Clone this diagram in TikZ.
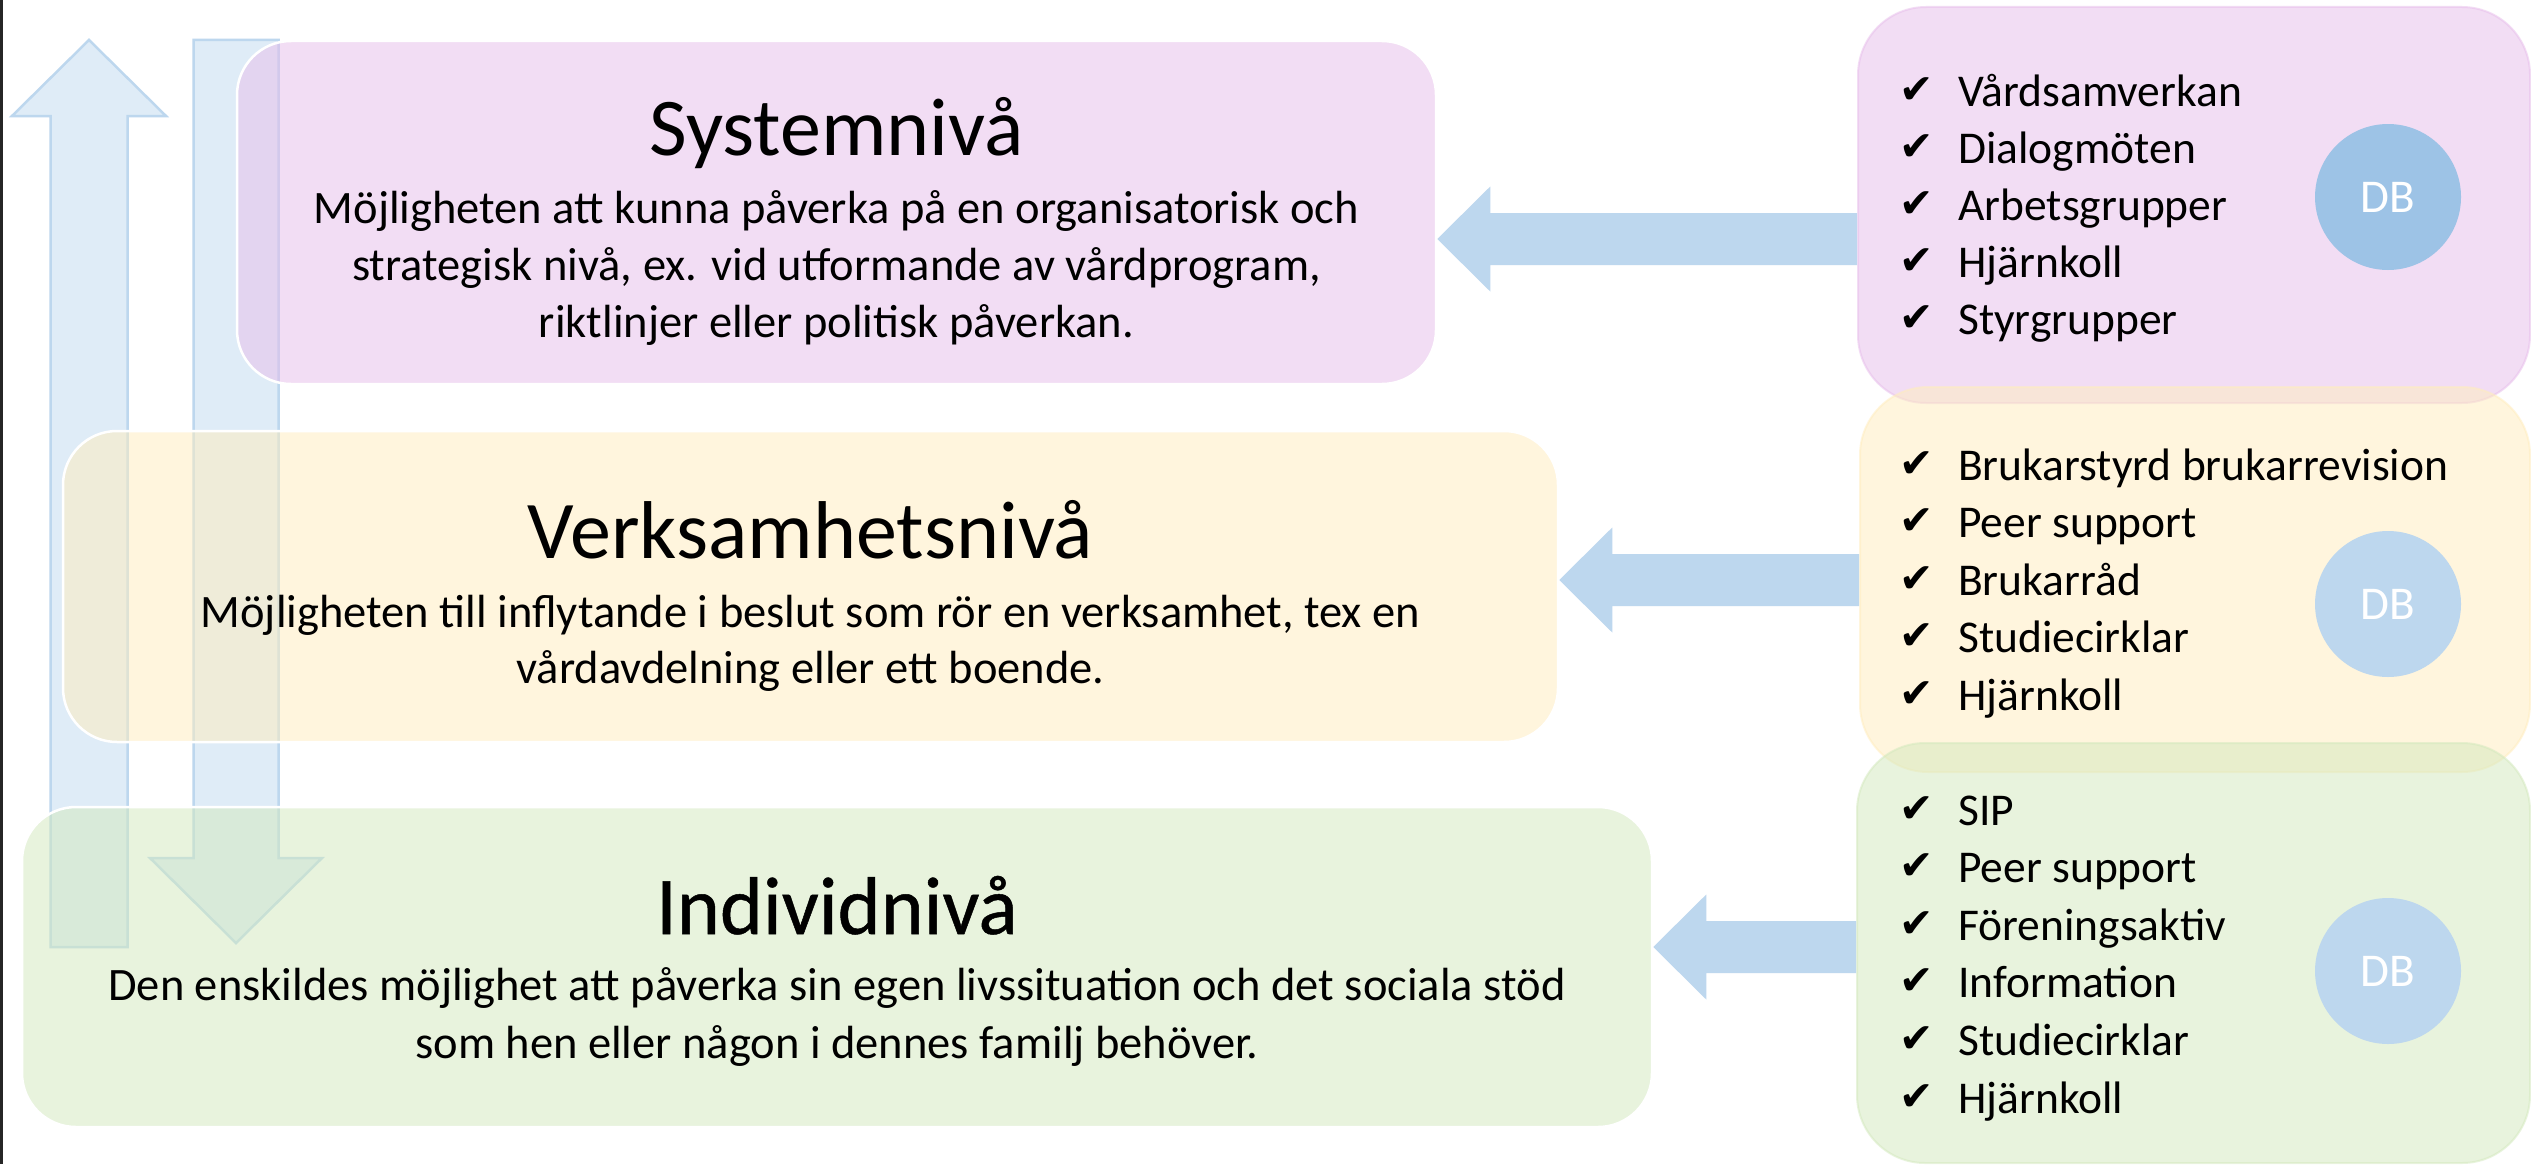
\documentclass[tikz,border=0pt]{standalone}
\usepackage{fontspec}
\setmainfont{Carlito}
\newfontfamily\chkfont{DejaVu Sans}
\usetikzlibrary{calc}
\definecolor{purpT}{RGB}{231,189,235}
\definecolor{yellT}{RGB}{255,237,189}
\definecolor{greenT}{RGB}{211,233,189}
\definecolor{arrowblue}{RGB}{189,215,238}
\definecolor{dbdark}{RGB}{157,195,230}
\definecolor{dblight}{RGB}{189,215,238}
\newcommand\leftblockarrow[2]{%
  \fill[arrowblue] (#2) -- ($(#2)+(53,-52.5)$) -- ($(#2)+(53,-26)$) -- ($(#1)+(0,-26)$)
    -- ($(#1)+(0,26)$) -- ($(#2)+(53,26)$) -- ($(#2)+(53,52.5)$) -- cycle;}
\begin{document}
\begin{tikzpicture}[x=1pt,y=-1pt,
  varrow/.style={fill=arrowblue, fill opacity=0.47, draw=arrowblue, line width=2.5pt, line join=miter},
  lbox/.style={draw=white, line width=2.5pt, rounded corners=54pt, inner sep=0pt, fill opacity=0.5},
  rbox/.style={line width=2pt, rounded corners=68pt, inner sep=0pt, fill opacity=0.5, draw opacity=0.5},
  title/.style={font=\fontsize{82}{98}\selectfont, anchor=base, inner sep=0pt},
  desc/.style={font=\fontsize{46.5}{57}\selectfont, anchor=base, inner sep=0pt},
  item/.style={font=\fontsize{45.5}{57}\selectfont, anchor=base west, inner sep=0pt},
  chk/.style={font=\chkfont\fontsize{41}{45}\selectfont, anchor=base west, inner sep=0pt},
  dbc/.style={circle, minimum size=146pt, inner sep=0pt, text=white, font=\fontsize{47}{50}\selectfont}]
\useasboundingbox (0,0) rectangle (2531,1164);
\fill[white] (0,0) rectangle (2531,1164);
\fill[black!85] (0,0) rectangle (3,1164);
% vertical arrows
\coordinate (upTip) at (89,40);
\coordinate (upBase) at (89,947);
\path[varrow] (upTip) -- ($(upTip)+(77,76)$) -- ($(upTip)+(38.5,76)$) -- ($(upBase)+(38.5,0)$)
  -- ($(upBase)+(-38.5,0)$) -- ($(upTip)+(-38.5,76)$) -- ($(upTip)+(-77,76)$) -- cycle;
\coordinate (dnTop) at (236,40);
\coordinate (dnTip) at (236,943);
\path[varrow] (dnTip) -- ($(dnTip)+(86,-85)$) -- ($(dnTip)+(42.5,-85)$) -- ($(dnTop)+(42.5,0)$)
  -- ($(dnTop)+(-42.5,0)$) -- ($(dnTip)+(-42.5,-85)$) -- ($(dnTip)+(-86,-85)$) -- cycle;
% left boxes
\node[lbox, fill=purpT, minimum width=1199pt, minimum height=343pt] (sys) at (836.5,212.5) {};
\node[lbox, fill=yellT, minimum width=1495pt, minimum height=311pt] (verk) at (810.5,586.5) {};
\node[lbox, fill=greenT, minimum width=1630pt, minimum height=320pt] (ind) at (837,967) {};
% right boxes
\node[rbox, fill=purpT, draw=purpT, minimum width=672pt, minimum height=396pt] (rsys) at (2194,205) {};
\node[rbox, fill=yellT, draw=yellT, minimum width=670pt, minimum height=385pt] (rverk) at (2195,579.5) {};
\node[rbox, fill=greenT, draw=greenT, minimum width=673pt, minimum height=420pt] (rind) at (2193.5,953) {};
% horizontal arrows
\path (rsys.west) ++(0,34) coordinate (h1s);
\path (sys.east) ++(0,26.5) coordinate (h1e);
\path (rverk.west) ++(0,0.5) coordinate (h2s);
\path (verk.east) ++(0,-6.5) coordinate (h2e);
\path (rind.west) ++(0,-6) coordinate (h3s);
\path (ind.east) ++(0,-20) coordinate (h3e);
\leftblockarrow{h1s}{h1e}
\leftblockarrow{h2s}{h2e}
\leftblockarrow{h3s}{h3e}
% DB circles
\node[dbc, fill=dbdark] (db1) at (2388,197) {DB};
\node[dbc, fill=dblight] (db2) at (2388,604) {DB};
\node[dbc, fill=dblight] (db3) at (2388,971) {DB};
% left texts
\node[title] (sysT) at (836.5,155) {Systemnivå};
\node[desc] (sysD1) at (836.5,223) {Möjligheten att kunna påverka på en organisatorisk och};
\node[desc] (sysD2) at (836.5,280) {strategisk nivå, ex. vid utformande av vårdprogram,};
\node[desc] (sysD3) at (836.5,337) {riktlinjer eller politisk påverkan.};
\node[title] (verkT) at (810.5,558) {Verksamhetsnivå};
\node[desc] (verkD1) at (810.5,627) {Möjligheten till inflytande i beslut som rör en verksamhet, tex en};
\node[desc] (verkD2) at (810.5,683) {vårdavdelning eller ett boende.};
\node[title] (indT) at (837,934) {\addfontfeature{FakeBold=0.6}Individnivå};
\node[desc] (indD1) at (837,1000) {Den enskildes möjlighet att påverka sin egen livssituation och det sociala stöd};
\node[desc] (indD2) at (837,1058) {som hen eller någon i dennes familj behöver.};
% right lists
\foreach \t [count=\i] in {Vårdsamverkan,Dialogmöten,Arbetsgrupper,Hjärnkoll,Styrgrupper}{
  \node[chk] (sc\i) at (1899,{106+57.2*(\i-1)-3}) {✔};
  \node[item] (si\i) at (1958,{106+57.2*(\i-1)}) {\t};}
\foreach \t [count=\i] in {Brukarstyrd brukarrevision,Peer support,Brukarråd,Studiecirklar,Hjärnkoll}{
  \node[chk] (vc\i) at (1899,{480+57.5*(\i-1)-3}) {✔};
  \node[item] (vi\i) at (1958,{480+57.5*(\i-1)}) {\t};}
\foreach \t [count=\i] in {SIP,Peer support,Föreningsaktiv,Information,Studiecirklar,Hjärnkoll}{
  \node[chk] (gc\i) at (1899,{825+57.6*(\i-1)-3}) {✔};
  \node[item] (gi\i) at (1958,{825+57.6*(\i-1)}) {\t};}
\end{tikzpicture}
\end{document}
